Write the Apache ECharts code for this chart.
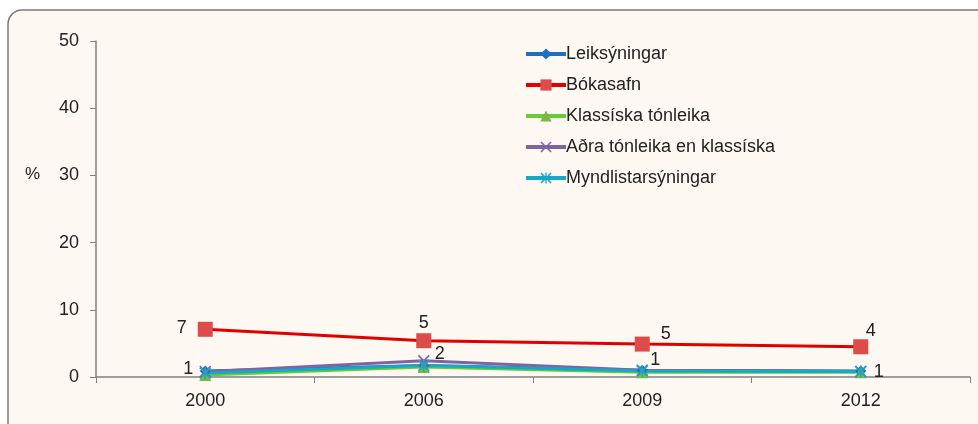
<!DOCTYPE html>
<html>
<head>
<meta charset="utf-8">
<script src="https://cdn.jsdelivr.net/npm/echarts@6/dist/echarts.min.js"></script>
<style>
  html, body { margin: 0; padding: 0; background: #fff; }
  #main { width: 978px; height: 424px; }
</style>
</head>
<body>
<div id="main"></div>
<script>
// ár og gildi (%)
var years = ['2000', '2006', '2009', '2012'];
var leiksyningar = [0.9, 1.7, 1.0, 0.9];
var bokasafn = [7.1, 5.4, 4.9, 4.5];
var bokasafnLabels = ['7', '5', '5', '4'];
var klassisk = [0.3, 1.5, 0.7, 0.7];
var adraTonleika = [0.8, 2.4, 1.0, 0.8];
var adraLabels = ['1', '2', '1', '1'];
var myndlist = [0.6, 1.7, 0.9, 0.8];
var yTicks = [0, 10, 20, 30, 40, 50];

var fontFam = '"Liberation Sans", Arial, sans-serif';
var xSymbol = 'path://M0,1L1,0L5,4L9,0L10,1L6,5L10,9L9,10L5,6L1,10L0,9L4,5Z';
var starSymbol = 'path://M0,1L1,0L5,4L9,0L10,1L6,5L10,9L9,10L5,6L1,10L0,9L4,5ZM4.4,0L5.6,0L5.6,10L4.4,10Z';

function lineSeries(name, data, color, markColor, symbol, size) {
  return {
    name: name,
    type: 'line',
    data: data,
    symbol: symbol,
    symbolSize: size,
    lineStyle: { color: color, width: 3 },
    itemStyle: { color: markColor },
    emphasis: { disabled: true }
  };
}

var chart = echarts.init(document.getElementById('main'));

var labelStyle = { color: '#222', fontSize: 18, fontFamily: fontFam };

var sRed = lineSeries('Bókasafn', bokasafn, '#e00000', '#de4b4b', 'rect', 15);
sRed.data = bokasafn.map(function (v, i) {
  var pos = ['left', 'top', 'right', 'top'][i];
  var off = [[-6, -1], [0, 4], [6, -10], [10, 6]][i];
  return { value: v, label: { show: true, position: pos, offset: off, formatter: bokasafnLabels[i] } };
});
sRed.label = labelStyle;

var sPurple = lineSeries('Aðra tónleika en klassíska', adraTonleika, '#8064a2', '#8064a2', xSymbol, 12);
sPurple.data = adraTonleika.map(function (v, i) {
  var pos = ['left', 'right', 'right', 'right'][i];
  var off = [[-1, -3], [0, -7], [-3, -10], [2, 0]][i];
  return { value: v, label: { show: true, position: pos, offset: off, formatter: adraLabels[i] } };
});
sPurple.label = labelStyle;

chart.setOption({
  backgroundColor: '#fff',
  animation: false,
  graphic: [{
    type: 'rect',
    shape: { x: 8, y: 10, width: 990, height: 440, r: 14 },
    style: { fill: '#fdf8f2', stroke: '#7a7a7a', lineWidth: 1.5 },
    z: -10
  }, {
    type: 'text',
    left: 25, top: 166,
    style: { text: '%', fill: '#222', font: '17px ' + fontFam }
  }],
  legend: {
    orient: 'vertical',
    left: 519,
    top: 40,
    itemWidth: 40,
    itemHeight: 14,
    itemGap: 13,
    lineStyle: { width: 4 },
    textStyle: { color: '#222', fontSize: 18, fontFamily: fontFam, padding: [0, 0, 0, -5] },
    data: ['Leiksýningar', 'Bókasafn', 'Klassíska tónleika', 'Aðra tónleika en klassíska', 'Myndlistarsýningar']
  },
  grid: { left: 96, right: 8, top: 41, bottom: 47 },
  xAxis: {
    type: 'category',
    data: years,
    boundaryGap: true,
    axisLine: { lineStyle: { color: '#808080', width: 1.5 } },
    axisTick: { show: true, length: 6, alignWithLabel: false, lineStyle: { color: '#808080' } },
    axisLabel: { color: '#222', fontSize: 18, fontFamily: fontFam, margin: 15 }
  },
  yAxis: {
    type: 'value',
    min: yTicks[0],
    max: yTicks[yTicks.length - 1],
    interval: 10,
    axisLine: { show: true, lineStyle: { color: '#808080', width: 1.5 } },
    axisTick: { show: true, inside: false, length: 6, lineStyle: { color: '#808080' } },
    splitLine: { show: false },
    axisLabel: { color: '#222', fontSize: 18, fontFamily: fontFam, margin: 17 }
  },
  series: [
    lineSeries('Leiksýningar', leiksyningar, '#1f6fc0', '#1f6fc0', 'diamond', 11),
    sRed,
    lineSeries('Klassíska tónleika', klassisk, '#66cc33', '#7ab648', 'triangle', 12),
    sPurple,
    lineSeries('Myndlistarsýningar', myndlist, '#17a8c8', '#17a8c8', starSymbol, 12)
  ]
});
</script>
</body>
</html>
